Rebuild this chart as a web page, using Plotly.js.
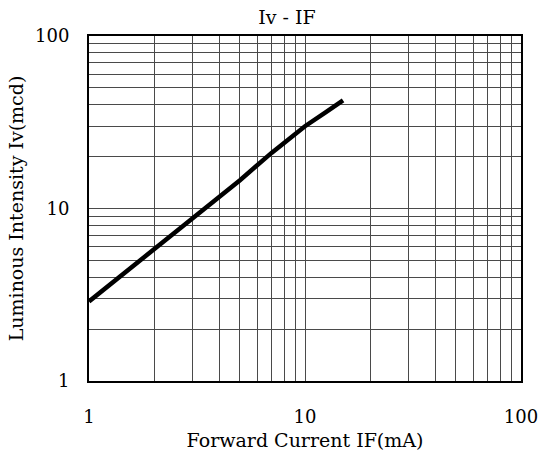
<!DOCTYPE html>
<html><head><meta charset="utf-8">
<script src="https://cdn.plot.ly/plotly-3.0.1.min.js"></script>
<style>body{margin:0;background:#fff}#c{width:543px;height:454px}</style>
</head><body><div id="c"></div>
<script>
const forwardCurrent = [1, 2, 3, 5, 7, 10, 12.5, 15];
const luminousIntensity = [2.89, 5.85, 8.8, 14.6, 21, 30, 36.2, 42.4];
const gridVals = [1,2,3,4,5,6,7,8,9,10,20,30,40,50,60,70,80,90,100];
const gridText = gridVals.map(v => (v===1||v===10||v===100) ? String(v) : '');

const font = {family: '"DejaVu Serif", "Liberation Serif", serif', color: '#000'};
const axisBase = {
  type: 'log', tickmode: 'array', tickvals: gridVals, ticktext: gridText,
  showgrid: true, gridcolor: '#4a4a4a', gridwidth: 1,
  showline: true, linecolor: '#000', linewidth: 2, mirror: true,
  ticks: '', zeroline: false, tickfont: {...font, size: 18}
};
Plotly.newPlot('c', [{
  x: forwardCurrent, y: luminousIntensity, type: 'scatter', mode: 'lines',
  line: {color: '#000', width: 4.5}, hoverinfo: 'skip'
}], {
  width: 543, height: 454,
  margin: {l: 89, r: 22, t: 36, b: 73},
  paper_bgcolor: '#fff', plot_bgcolor: '#fff',
  showlegend: false,
  title: {text: 'Iv - IF', font: {...font, size: 19}, x: 287/543, xanchor: 'center', y: 1 - 17/454, yanchor: 'middle'},
  xaxis: {...axisBase, range: [0, 2], ticklabelstandoff: 18,
    title: {text: 'Forward Current IF(mA)', font: {...font, size: 19}, standoff: 8}},
  yaxis: {...axisBase, range: [0, 2], ticklabelstandoff: 14,
    title: {text: 'Luminous Intensity Iv(mcd)', font: {...font, size: 19}, standoff: 6}}
}, {displayModeBar: false, staticPlot: true});
</script></body></html>
